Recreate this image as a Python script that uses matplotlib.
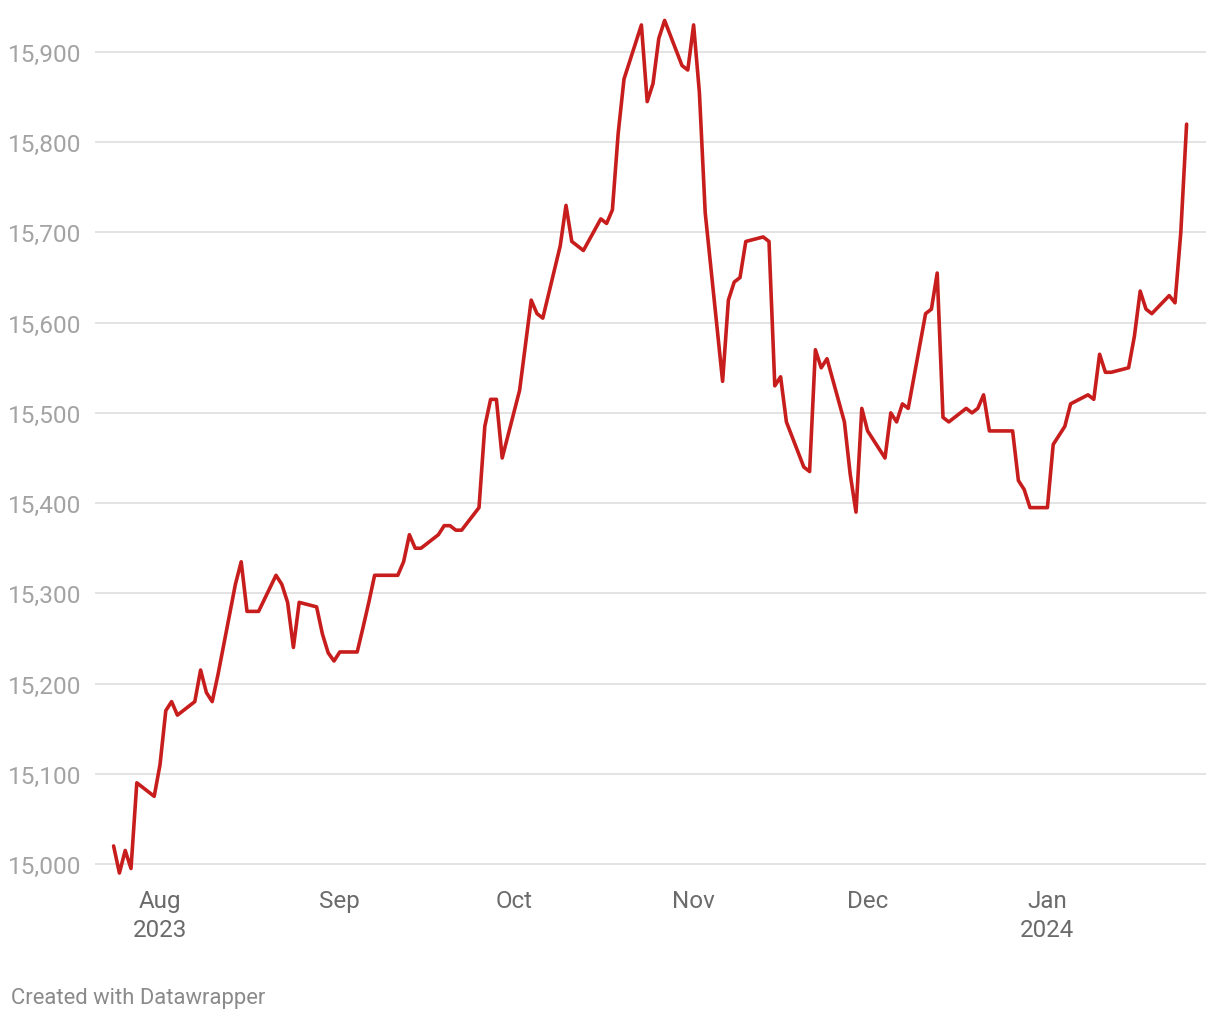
import matplotlib
matplotlib.use("Agg")
import matplotlib.pyplot as plt
import matplotlib.dates as mdates
from matplotlib.ticker import FuncFormatter
import pandas as pd

# trading days
dates = [
    "2023-07-24", "2023-07-25", "2023-07-26", "2023-07-27", "2023-07-28",
    "2023-07-31", "2023-08-01", "2023-08-02", "2023-08-03", "2023-08-04",
    "2023-08-07", "2023-08-08", "2023-08-09", "2023-08-10", "2023-08-11",
    "2023-08-14", "2023-08-15", "2023-08-16", "2023-08-17", "2023-08-18",
    "2023-08-21", "2023-08-22", "2023-08-23", "2023-08-24", "2023-08-25",
    "2023-08-28", "2023-08-29", "2023-08-30", "2023-08-31", "2023-09-01",
    "2023-09-04", "2023-09-05", "2023-09-06", "2023-09-07", "2023-09-08",
    "2023-09-11", "2023-09-12", "2023-09-13", "2023-09-14", "2023-09-15",
    "2023-09-18", "2023-09-19", "2023-09-20", "2023-09-21", "2023-09-22",
    "2023-09-25", "2023-09-26", "2023-09-27", "2023-09-28", "2023-09-29",
    "2023-10-02", "2023-10-03", "2023-10-04", "2023-10-05", "2023-10-06",
    "2023-10-09", "2023-10-10", "2023-10-11", "2023-10-12", "2023-10-13",
    "2023-10-16", "2023-10-17", "2023-10-18", "2023-10-19", "2023-10-20",
    "2023-10-23", "2023-10-24", "2023-10-25", "2023-10-26", "2023-10-27",
    "2023-10-30", "2023-10-31", "2023-11-01", "2023-11-02", "2023-11-03",
    "2023-11-06", "2023-11-07", "2023-11-08", "2023-11-09", "2023-11-10",
    "2023-11-13", "2023-11-14", "2023-11-15", "2023-11-16", "2023-11-17",
    "2023-11-20", "2023-11-21", "2023-11-22", "2023-11-23", "2023-11-24",
    "2023-11-27", "2023-11-28", "2023-11-29", "2023-11-30", "2023-12-01",
    "2023-12-04", "2023-12-05", "2023-12-06", "2023-12-07", "2023-12-08",
    "2023-12-11", "2023-12-12", "2023-12-13", "2023-12-14", "2023-12-15",
    "2023-12-18", "2023-12-19", "2023-12-20", "2023-12-21", "2023-12-22",
    "2023-12-25", "2023-12-26", "2023-12-27", "2023-12-28", "2023-12-29",
    "2024-01-01", "2024-01-02", "2024-01-03", "2024-01-04", "2024-01-05",
    "2024-01-08", "2024-01-09", "2024-01-10", "2024-01-11", "2024-01-12",
    "2024-01-15", "2024-01-16", "2024-01-17", "2024-01-18", "2024-01-19",
    "2024-01-22", "2024-01-23", "2024-01-24", "2024-01-25",
]
values = [
    15020, 14990, 15015, 14995, 15090,
    15075, 15110, 15170, 15180, 15165,
    15180, 15215, 15190, 15180, 15210,
    15310, 15335, 15280, 15280, 15280,
    15320, 15310, 15290, 15240, 15290,
    15285, 15255, 15234, 15225, 15235,
    15235, 15262, 15290, 15320, 15320,
    15320, 15335, 15365, 15350, 15350,
    15365, 15375, 15375, 15370, 15370,
    15395, 15485, 15515, 15515, 15450,
    15525, 15575, 15625, 15610, 15605,
    15685, 15730, 15690, 15685, 15680,
    15715, 15710, 15725, 15810, 15870,
    15930, 15845, 15865, 15915, 15935,
    15885, 15880, 15930, 15855, 15722,
    15535, 15625, 15645, 15650, 15690,
    15695, 15690, 15530, 15540, 15490,
    15440, 15435, 15570, 15550, 15560,
    15490, 15432, 15390, 15505, 15480,
    15450, 15500, 15490, 15510, 15505,
    15610, 15615, 15655, 15495, 15490,
    15505, 15500, 15505, 15520, 15480,
    15480, 15480, 15425, 15415, 15395,
    15395, 15465, 15475, 15485, 15510,
    15520, 15515, 15565, 15545, 15545,
    15550, 15585, 15635, 15615, 15610,
    15630, 15622, 15700, 15820,
]

y_ticks = [15000, 15100, 15200, 15300, 15400, 15500, 15600, 15700, 15800, 15900]
x_ticks = ["2023-08-01", "2023-09-01", "2023-10-01", "2023-11-01", "2023-12-01", "2024-01-01"]
x_labels = ["Aug\n2023", "Sep", "Oct", "Nov", "Dec", "Jan\n2024"]

plt.rcParams["font.family"] = ["Roboto", "DejaVu Sans"]

fig = plt.figure(figsize=(12.2, 10.2), dpi=100)
ax = fig.add_axes([95 / 1220, 1 - 880 / 1020, (1206 - 95) / 1220, 870 / 1020])

x = pd.to_datetime(dates)
ax.plot(x, values, color="#c71e1d", linewidth=2.6, solid_joinstyle="round",
        solid_capstyle="round", clip_on=False, zorder=3)

aug1 = mdates.date2num(pd.Timestamp("2023-08-01"))
ax.set_xlim(aug1 - 65 / 5.8, aug1 + 1046 / 5.8)
ax.set_ylim(15000 - 15 / 0.9022, 15900 + 43 / 0.9022)

ax.set_yticks(y_ticks)
ax.yaxis.set_major_formatter(FuncFormatter(lambda v, p: f"{v:,.0f}"))
ax.grid(axis="y", color="#e3e3e3", linewidth=1.4, zorder=0)
ax.set_xticks(pd.to_datetime(x_ticks))
ax.set_xticklabels(x_labels, linespacing=1.32)

ax.tick_params(axis="y", length=0, pad=9.5, labelsize=17.6, labelcolor="#a3a3a3")
ax.tick_params(axis="x", length=0, pad=7.5, labelsize=17.4, labelcolor="#6b6b6b")
for s in ax.spines.values():
    s.set_visible(False)

fig.text(11 / 1220, 1 - 999 / 1020, "Created with Datawrapper", fontsize=15.8,
         color="#8a8a8a", va="center", ha="left")

fig.savefig("out.png", dpi=100)
